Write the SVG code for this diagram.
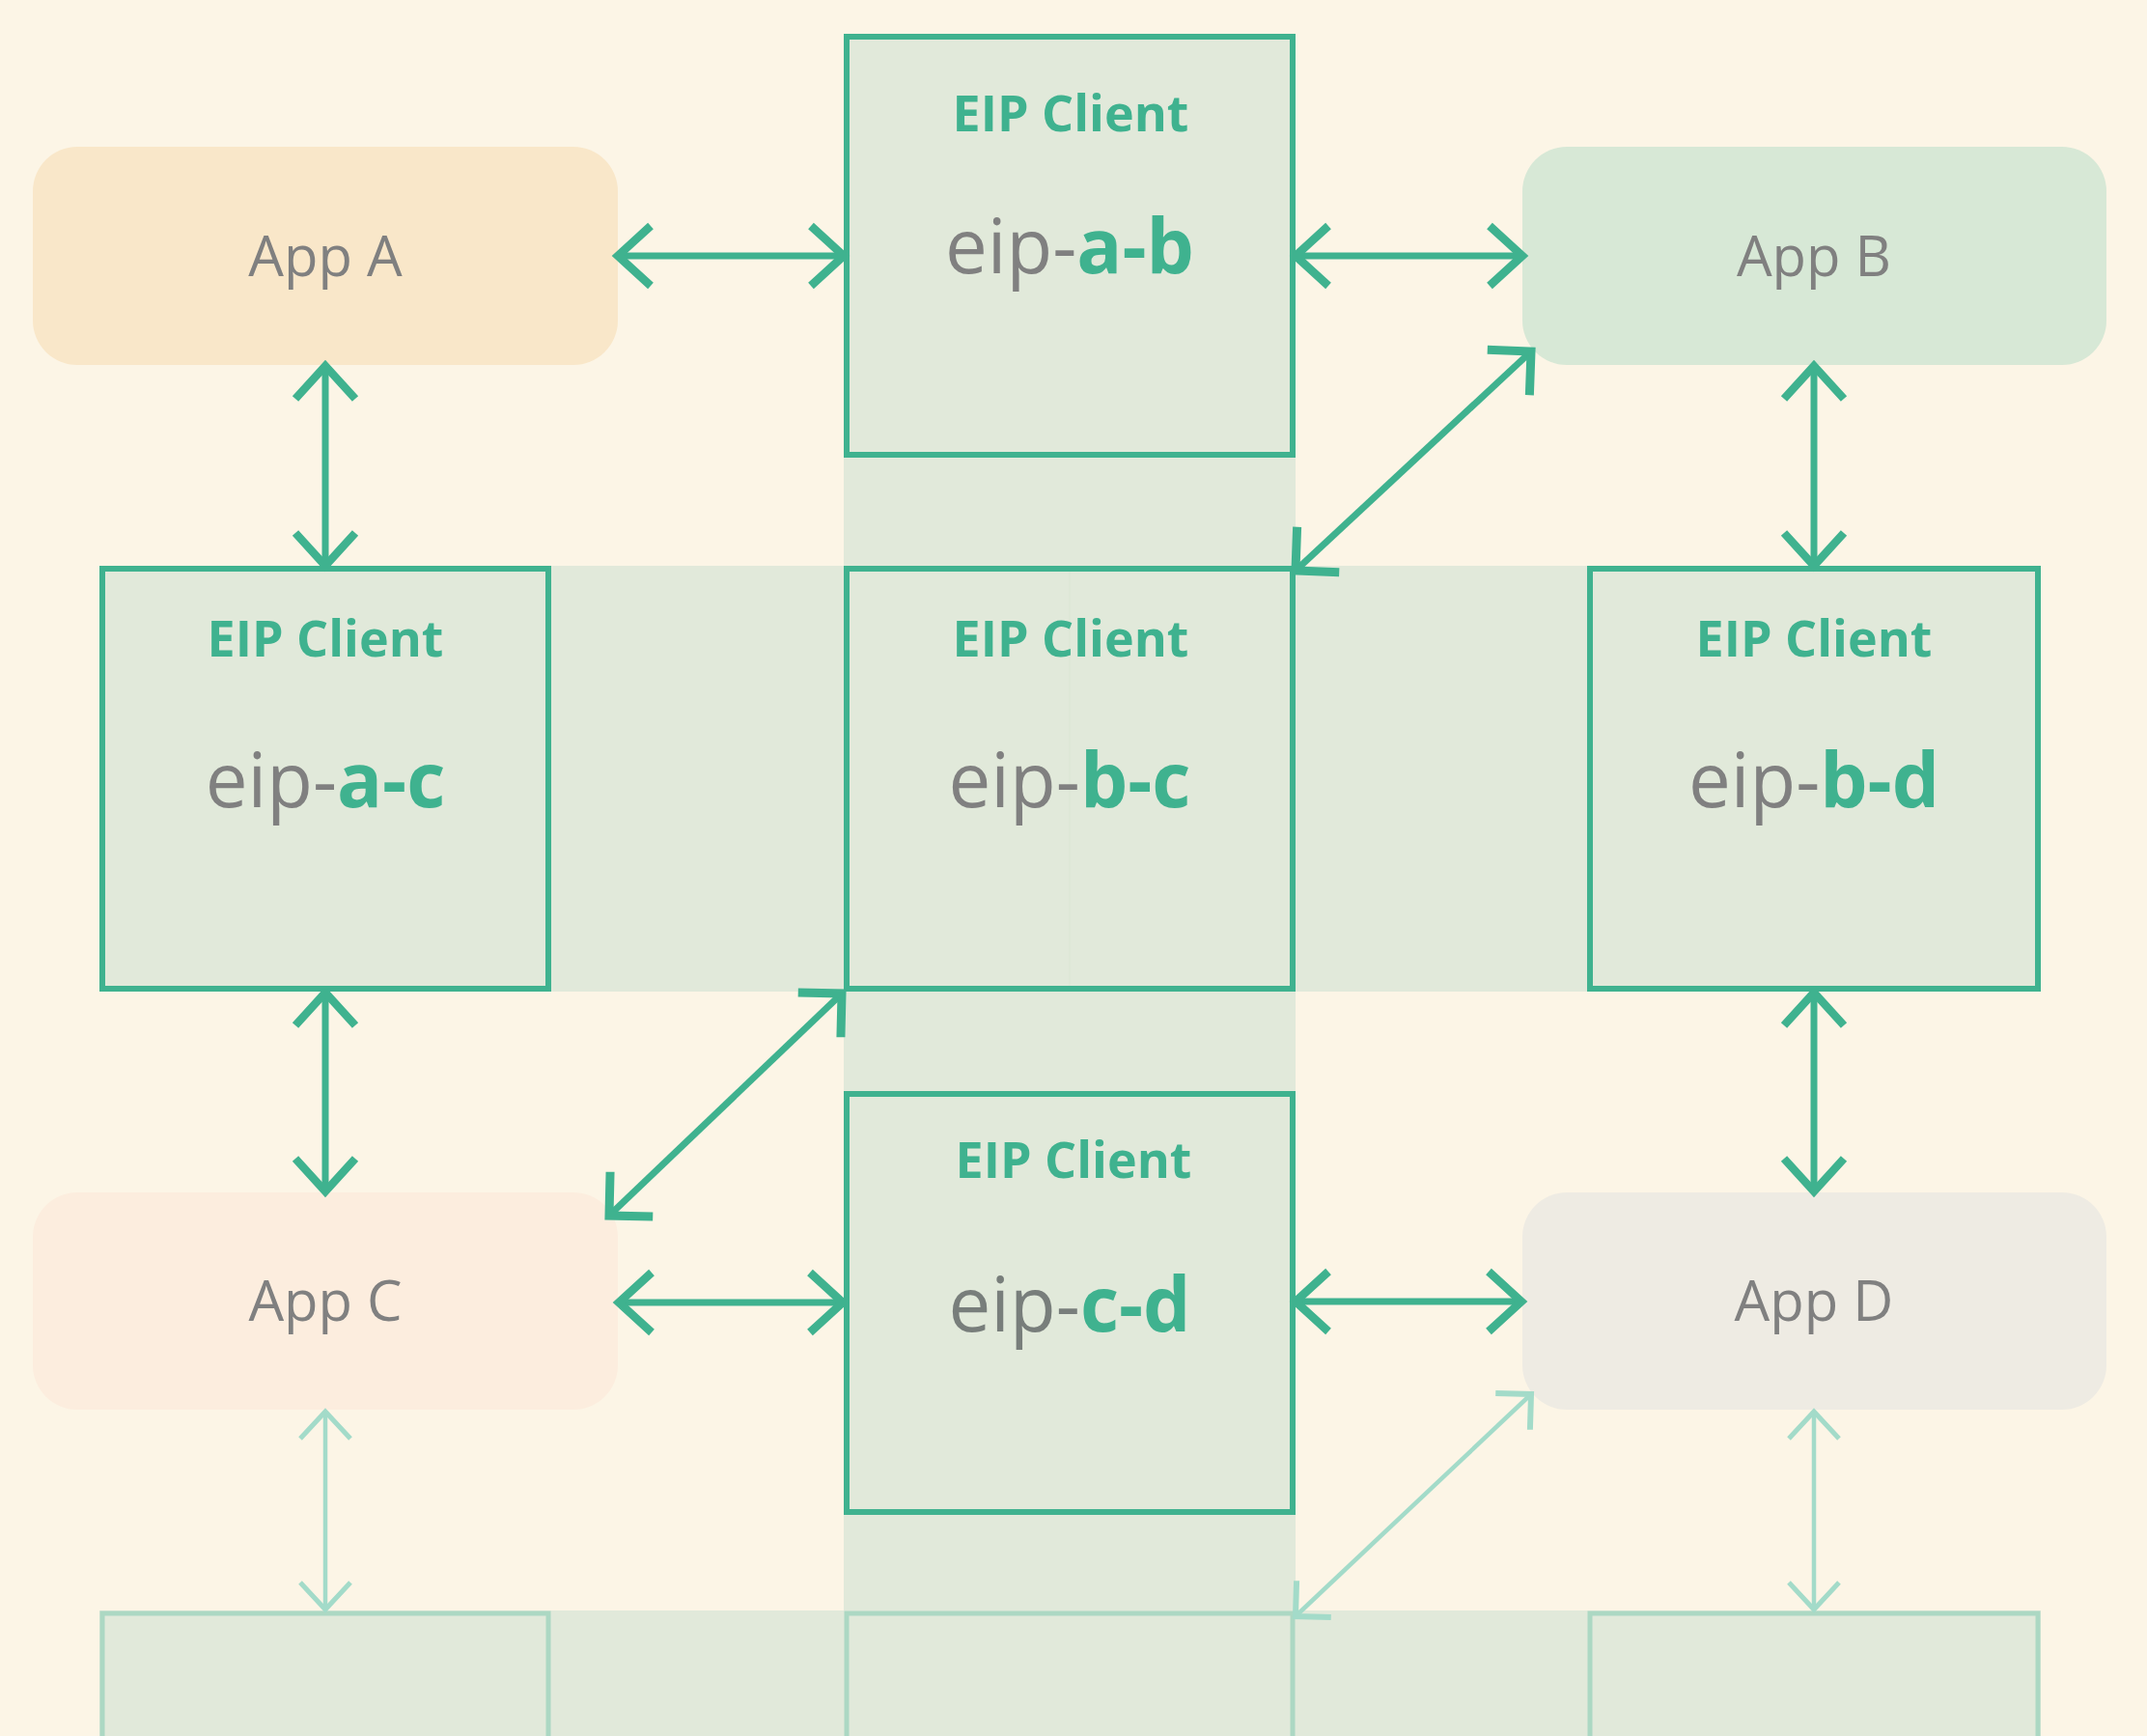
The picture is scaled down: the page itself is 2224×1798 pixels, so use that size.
<svg xmlns="http://www.w3.org/2000/svg" width="2224" height="1798" viewBox="0 0 2224 1798">
  <style>
    .app { stroke: none; }
    .apptxt { font-family: "Open Sans", "Liberation Sans", sans-serif; font-size: 58px; fill: #808080; text-anchor: middle; }
    .box { fill: #e1e9da; stroke: #3fb28f; stroke-width: 6; }
    .fbox { fill: #e1e9da; stroke: #acd8c3; stroke-width: 5; }
    .band { fill: #e1e9da; }
    .hdr { font-family: "Open Sans", "Liberation Sans", sans-serif; font-size: 52px; font-weight: 700; fill: #3fb28f; text-anchor: middle; }
    .main { font-family: "Open Sans", "Liberation Sans", sans-serif; font-size: 78px; text-anchor: middle; }
    .g { fill: #808080; font-weight: 400; }
    .b { fill: #3fb28f; font-weight: 700; }
    .conn { fill: none; stroke: #3fb28f; stroke-width: 7; }
    .fconn { fill: none; stroke: #a3dbc9; stroke-width: 4.5; }
  </style>
  <defs>
    <marker id="ah" markerUnits="userSpaceOnUse" viewBox="-50 -50 60 100" refX="0" refY="0" markerWidth="60" markerHeight="100" orient="auto-start-reverse" overflow="visible">
      <path d="M-34,-31 L0,0 L-34,31" fill="none" stroke="#3fb28f" stroke-width="8.5"/>
    </marker>
    <marker id="ahd" markerUnits="userSpaceOnUse" viewBox="-50 -50 60 100" refX="0" refY="0" markerWidth="60" markerHeight="100" orient="auto-start-reverse" overflow="visible">
      <path d="M-32,-32 L0,0 L-32,32" fill="none" stroke="#3fb28f" stroke-width="9"/>
    </marker>
    <marker id="fah" markerUnits="userSpaceOnUse" viewBox="-50 -50 60 100" refX="0" refY="0" markerWidth="60" markerHeight="100" orient="auto-start-reverse" overflow="visible">
      <path d="M-28,-26 L0,0 L-28,26" fill="none" stroke="#a3dbc9" stroke-width="5"/>
    </marker>
    <marker id="fahd" markerUnits="userSpaceOnUse" viewBox="-50 -50 60 100" refX="0" refY="0" markerWidth="60" markerHeight="100" orient="auto-start-reverse" overflow="visible">
      <path d="M-26,-26 L0,0 L-26,26" fill="none" stroke="#a3dbc9" stroke-width="6"/>
    </marker>
  </defs>

  <rect x="0" y="0" width="2224" height="1798" fill="#fcf5e6"/>

  <g id="bands">
    <rect class="band" x="874" y="35" width="468" height="1763"/>
    <rect class="band" x="103" y="586" width="2011" height="441"/>
    <rect class="band" x="103" y="1668" width="2011" height="130"/>
  </g>

  <g id="app-a">
    <rect class="app" x="34" y="152" width="606" height="226" rx="46" fill="#f9e7c9"/>
    <text class="apptxt" x="337" y="286">App A</text>
  </g>
  <g id="app-b">
    <rect class="app" x="1577" y="152" width="605" height="226" rx="46" fill="#d7e8d6"/>
    <text class="apptxt" x="1879" y="286">App B</text>
  </g>
  <g id="app-c">
    <rect class="app" x="34" y="1235" width="606" height="225" rx="46" fill="#fcedde"/>
    <text class="apptxt" x="337" y="1368">App C</text>
  </g>
  <g id="app-d">
    <rect class="app" x="1577" y="1235" width="605" height="225" rx="46" fill="#eeebe3"/>
    <text class="apptxt" x="1879" y="1368">App D</text>
  </g>

  <g id="eip-a-b">
    <rect class="box" x="877" y="38" width="462" height="433"/>
    <text class="hdr" x="1109" y="136">EIP Client</text>
    <text class="main" x="1108" y="283"><tspan class="g">eip-</tspan><tspan class="b">a-b</tspan></text>
  </g>
  <g id="eip-a-c">
    <rect class="box" x="106" y="589" width="462" height="435"/>
    <text class="hdr" x="337" y="680">EIP Client</text>
    <text class="main" x="337" y="836"><tspan class="g">eip-</tspan><tspan class="b">a-c</tspan></text>
  </g>
  <g id="eip-b-c">
    <rect class="box" x="877" y="589" width="462" height="435"/>
    <line x1="1108" y1="592" x2="1108" y2="1021" stroke="#dde6d6" stroke-width="1.5"/>
    <text class="hdr" x="1109" y="680">EIP Client</text>
    <text class="main" x="1108" y="836"><tspan class="g">eip-</tspan><tspan class="b">b-c</tspan></text>
  </g>
  <g id="eip-b-d">
    <rect class="box" x="1647" y="589" width="464" height="435"/>
    <text class="hdr" x="1879" y="680">EIP Client</text>
    <text class="main" x="1879" y="836"><tspan class="g">eip-</tspan><tspan class="b">b-d</tspan></text>
  </g>
  <g id="eip-c-d">
    <rect class="box" x="877" y="1133" width="462" height="433"/>
    <text class="hdr" x="1112" y="1220">EIP Client</text>
    <text class="main" x="1108" y="1379"><tspan class="g" style="fill:#787e7b">eip-</tspan><tspan class="b">c-d</tspan></text>
  </g>

  <g id="faded-row">
    <rect class="fbox" x="106" y="1671" width="462" height="435"/>
    <rect class="fbox" x="877" y="1671" width="462" height="435"/>
    <rect class="fbox" x="1647" y="1671" width="464" height="435"/>
  </g>

  <g id="connectors">
    <line class="conn" x1="640" y1="265" x2="874" y2="265" marker-start="url(#ah)" marker-end="url(#ah)"/>
    <line class="conn" x1="1342" y1="265" x2="1577" y2="265" marker-start="url(#ah)" marker-end="url(#ah)"/>
    <line class="conn" x1="337" y1="379" x2="337" y2="586" marker-start="url(#ah)" marker-end="url(#ah)"/>
    <line class="conn" x1="1879" y1="379" x2="1879" y2="586" marker-start="url(#ah)" marker-end="url(#ah)"/>
    <line class="conn" x1="1586" y1="364" x2="1342" y2="591" marker-start="url(#ahd)" marker-end="url(#ahd)"/>
    <line class="conn" x1="337" y1="1028" x2="337" y2="1234" marker-start="url(#ah)" marker-end="url(#ah)"/>
    <line class="conn" x1="1879" y1="1028" x2="1879" y2="1234" marker-start="url(#ah)" marker-end="url(#ah)"/>
    <line class="conn" x1="872" y1="1029" x2="631" y2="1259" marker-start="url(#ahd)" marker-end="url(#ahd)"/>
    <line class="conn" x1="641" y1="1349" x2="873" y2="1349" marker-start="url(#ah)" marker-end="url(#ah)"/>
    <line class="conn" x1="1342" y1="1348" x2="1576" y2="1348" marker-start="url(#ah)" marker-end="url(#ah)"/>
    <line class="fconn" x1="337" y1="1462" x2="337" y2="1667" marker-start="url(#fah)" marker-end="url(#fah)"/>
    <line class="fconn" x1="1879" y1="1462" x2="1879" y2="1667" marker-start="url(#fah)" marker-end="url(#fah)"/>
    <line class="fconn" x1="1586" y1="1444" x2="1342" y2="1674" marker-start="url(#fahd)" marker-end="url(#fahd)"/>
  </g>
</svg>
